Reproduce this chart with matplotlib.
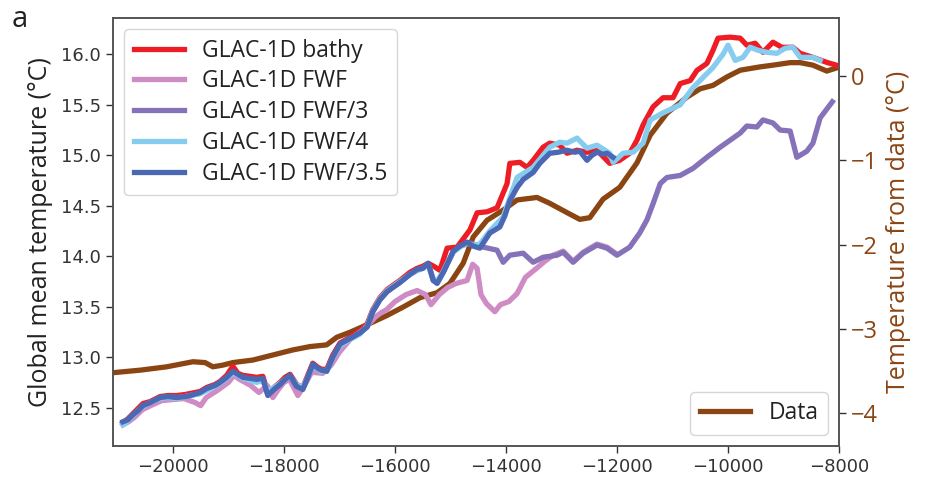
import matplotlib
matplotlib.use('Agg')
import matplotlib.pyplot as plt

# shared early time grid (years) for the GLAC-1D runs
t_early = [-20900, -20810, -20720, -20630, -20540, -20410, -20230, -20090, -19930, -19780,
           -19690, -19510, -19390, -19240, -19150, -19030, -18920, -18830, -18740, -18610,
           -18490, -18380, -18290, -18180, -18070, -17980, -17890, -17770, -17660, -17570,
           -17480, -17390, -17320, -17230, -17120, -16990, -16860, -16760, -16630, -16500,
           -16400, -16270, -16140, -16040, -15910, -15730, -15600, -15500]

red_early = [12.35, 12.39, 12.44, 12.49, 12.54, 12.56, 12.61, 12.62, 12.62, 12.63, 12.64, 12.66,
             12.70, 12.73, 12.76, 12.82, 12.91, 12.84, 12.82, 12.81, 12.80, 12.81, 12.65, 12.70,
             12.75, 12.80, 12.83, 12.73, 12.70, 12.82, 12.94, 12.90, 12.88, 12.88, 13.02, 13.14,
             13.18, 13.22, 13.26, 13.33, 13.47, 13.59, 13.67, 13.71, 13.76, 13.84, 13.88, 13.90]
ltblue_early = [12.33, 12.37, 12.42, 12.47, 12.51, 12.55, 12.59, 12.60, 12.59, 12.61, 12.62, 12.64,
                12.67, 12.71, 12.74, 12.79, 12.84, 12.82, 12.79, 12.77, 12.75, 12.77, 12.66, 12.70,
                12.74, 12.78, 12.81, 12.73, 12.70, 12.80, 12.91, 12.88, 12.86, 12.86, 12.99, 13.11,
                13.16, 13.19, 13.23, 13.31, 13.46, 13.58, 13.66, 13.70, 13.75, 13.82, 13.86, 13.88]
blue_early = [12.36, 12.38, 12.43, 12.47, 12.52, 12.55, 12.60, 12.61, 12.60, 12.61, 12.62, 12.65,
              12.69, 12.72, 12.75, 12.80, 12.86, 12.83, 12.80, 12.79, 12.78, 12.79, 12.62, 12.68,
              12.73, 12.78, 12.82, 12.71, 12.68, 12.80, 12.93, 12.89, 12.87, 12.86, 13.00, 13.13,
              13.17, 13.20, 13.24, 13.30, 13.45, 13.57, 13.65, 13.69, 13.74, 13.82, 13.87, 13.88]
purple_early = [12.35, 12.38, 12.43, 12.47, 12.52, 12.55, 12.60, 12.61, 12.60, 12.61, 12.62, 12.64,
                12.68, 12.72, 12.75, 12.80, 12.85, 12.82, 12.80, 12.78, 12.77, 12.78, 12.63, 12.68,
                12.73, 12.78, 12.81, 12.71, 12.69, 12.80, 12.92, 12.88, 12.87, 12.86, 13.00, 13.12,
                13.17, 13.20, 13.24, 13.30, 13.45, 13.57, 13.65, 13.69, 13.74, 13.82, 13.86, 13.88]

# later parts, where the runs split
t_red = [-15400, -15300, -15190, -15060, -14880, -14650, -14520, -14340, -14160, -13980,
         -13930, -13750, -13620, -13510, -13330, -13210, -13030, -12900, -12720, -12540,
         -12360, -12130, -11950, -11770, -11640, -11530, -11350, -11170, -10990, -10860,
         -10680, -10560, -10380, -10270, -10180, -9960, -9780, -9660, -9510, -9370,
         -9190, -9030, -8830, -8700, -8470, -8220, -8030]
red_late = [13.93, 13.90, 13.86, 14.08, 14.09, 14.26, 14.43, 14.44, 14.48, 14.72,
            14.92, 14.93, 14.88, 14.95, 15.08, 15.12, 15.10, 15.02, 15.05, 15.03,
            15.05, 14.92, 14.95, 15.02, 15.15, 15.30, 15.48, 15.57, 15.57, 15.71,
            15.74, 15.84, 15.91, 16.04, 16.16, 16.17, 16.16, 16.09, 16.11, 16.02,
            16.12, 16.07, 16.07, 16.01, 15.97, 15.92, 15.89]

t_ltblue = [-15400, -15310, -15240, -15130, -15060, -14950, -14830, -14700, -14590, -14470,
            -14290, -14050, -13800, -13510, -13210, -13030, -12900, -12720, -12540, -12360,
            -12130, -12070, -11890, -11710, -11530, -11400, -11170, -10860, -10630, -10450,
            -10270, -10090, -10000, -9870, -9730, -9600, -9460, -9300, -9120, -8970,
            -8830, -8700, -8470, -8340]
ltblue_late = [13.92, 13.78, 13.75, 13.85, 13.93, 14.04, 14.09, 14.13, 14.11, 14.12,
               14.25, 14.39, 14.78, 14.88, 15.08, 15.13, 15.12, 15.17, 15.07, 15.10,
               15.02, 14.93, 15.02, 15.03, 15.12, 15.35, 15.42, 15.50, 15.67, 15.77,
               15.87, 16.00, 16.09, 15.94, 15.97, 16.07, 16.04, 16.02, 16.01, 16.06,
               16.07, 15.97, 15.97, 15.94]

t_blue = [-15400, -15310, -15240, -15130, -15060, -14950, -14830, -14700, -14590, -14470,
          -14290, -14110, -14020, -13930, -13800, -13690, -13510, -13390, -13210, -13060,
          -12900, -12760, -12670, -12540, -12450, -12360, -12250, -12180, -12070]
blue_late = [13.93, 13.76, 13.73, 13.84, 13.92, 14.05, 14.10, 14.14, 14.10, 14.08,
             14.23, 14.29, 14.40, 14.55, 14.68, 14.76, 14.83, 14.92, 15.02, 15.03,
             15.05, 15.03, 15.04, 14.95, 15.00, 15.03, 15.01, 15.02, 14.98]

t_purple = [-15400, -15310, -15240, -15130, -15060, -14950, -14830, -14650, -14410, -14160,
            -14050, -13930, -13690, -13510, -13330, -13080, -12970, -12790, -12610, -12360,
            -12180, -12000, -11770, -11590, -11460, -11350, -11220, -11100, -10860, -10630,
            -10380, -10140, -9960, -9780, -9660, -9480, -9370, -9190, -9060, -8880,
            -8760, -8580, -8470, -8340, -8120]
purple_late = [13.92, 13.76, 13.74, 13.84, 13.92, 14.04, 14.10, 14.13, 14.09, 14.06,
               13.94, 14.01, 14.03, 13.94, 13.99, 14.01, 14.04, 13.94, 14.03, 14.11,
               14.08, 14.01, 14.09, 14.23, 14.36, 14.52, 14.72, 14.78, 14.80, 14.87,
               14.98, 15.08, 15.15, 15.22, 15.29, 15.28, 15.35, 15.32, 15.25, 15.24,
               14.98, 15.04, 15.12, 15.37, 15.53]

t_pink = [-20900, -20800, -20700, -20550, -20400, -20200, -20000, -19800, -19600, -19500,
          -19400, -19200, -19000, -18900, -18800, -18600, -18450, -18300, -18200, -18100,
          -18000, -17900, -17750, -17650, -17500, -17300, -17150, -17000, -16800, -16700,
          -16550, -16450, -16350, -16250, -16150, -16000, -15800, -15600, -15450, -15350,
          -15200, -15050, -14900, -14700, -14600, -14520, -14450, -14350, -14200, -14100,
          -13950, -13800, -13650, -13450, -13300, -13150, -12970, -12790, -12610, -12360,
          -12180, -12000]
pink = [12.33, 12.36, 12.40, 12.48, 12.52, 12.57, 12.58, 12.59, 12.55, 12.52,
        12.60, 12.67, 12.75, 12.82, 12.78, 12.72, 12.65, 12.72, 12.60, 12.68,
        12.75, 12.78, 12.62, 12.70, 12.85, 12.84, 12.92, 13.05, 13.18, 13.22,
        13.28, 13.34, 13.40, 13.44, 13.47, 13.55, 13.62, 13.66, 13.62, 13.52,
        13.62, 13.69, 13.73, 13.76, 13.92, 13.88, 13.62, 13.53, 13.45, 13.52,
        13.55, 13.63, 13.79, 13.88, 13.95, 14.01, 14.05, 13.95, 14.04, 14.12,
        14.09, 14.02]

# reconstruction (right axis, anomaly)
t_data = [-21080, -20590, -20110, -19640, -19420, -19280, -19100, -18920, -18560, -18200,
          -17840, -17530, -17230, -17050, -16810, -16500, -16140, -15850, -15550, -15240,
          -15010, -14770, -14590, -14340, -14050, -13800, -13440, -13210, -12900, -12670,
          -12490, -12250, -11950, -11640, -11400, -11100, -10740, -10500, -10270, -10020,
          -9780, -9420, -9190, -8880, -8700, -8470, -8220, -8030]
data = [-3.52, -3.49, -3.45, -3.39, -3.40, -3.45, -3.43, -3.40, -3.37, -3.31,
        -3.25, -3.21, -3.19, -3.10, -3.04, -2.95, -2.84, -2.74, -2.63, -2.57,
        -2.46, -2.22, -1.91, -1.71, -1.59, -1.47, -1.44, -1.51, -1.62, -1.70,
        -1.68, -1.46, -1.32, -1.03, -0.70, -0.44, -0.25, -0.15, -0.11, -0.01,
        0.07, 0.11, 0.13, 0.16, 0.16, 0.13, 0.06, 0.10]

labels = ['GLAC-1D bathy', 'GLAC-1D FWF', 'GLAC-1D FWF/3', 'GLAC-1D FWF/4', 'GLAC-1D FWF/3.5']
colors = ['#ee1d25', '#cf8bc3', '#8572b9', '#86ccef', '#4a68b3']
brown = '#8b4513'
lab_font = 'Open Sans'
dark = '#333333'

fig = plt.figure(figsize=(9.39, 4.82), dpi=100)
ax = fig.add_axes([0.1203, 0.0747, 0.7732, 0.888])
ax2 = ax.twinx()

lw = 3.8
ax.plot(t_early + t_red, red_early + red_late, color=colors[0], lw=lw, label=labels[0])
ax.plot(t_pink, pink, color=colors[1], lw=lw, label=labels[1])
ax.plot(t_early + t_purple, purple_early + purple_late, color=colors[2], lw=lw, label=labels[2])
ax.plot(t_early + t_ltblue, ltblue_early + ltblue_late, color=colors[3], lw=lw, label=labels[3])
ax.plot(t_early + t_blue, blue_early + blue_late, color=colors[4], lw=lw, label=labels[4])

ax2.plot(t_data, data, color=brown, lw=lw, label='Data')

# model curves drawn above the data curve
ax.set_zorder(ax2.get_zorder() + 1)
ax.patch.set_visible(False)

ax.set_xlim(-21080, -8000)
ax.set_ylim(12.12, 16.36)
ax2.set_ylim(-4.39, 0.69)
ax.set_xticks([-20000, -18000, -16000, -14000, -12000, -10000, -8000])
ax.set_yticks([12.5, 13.0, 13.5, 14.0, 14.5, 15.0, 15.5, 16.0])
ax2.set_yticks([-4, -3, -2, -1, 0])

ax.tick_params(labelsize=13, colors=dark, length=5, width=1)
ax2.tick_params(axis='y', length=5, width=1, color=dark, labelcolor=brown, labelsize=17)
for lab in ax2.get_yticklabels():
    lab.set_fontfamily(lab_font)
for a in (ax, ax2):
    for sp in a.spines.values():
        sp.set_color('#555555')
        sp.set_linewidth(1.2)

ax.set_ylabel('Global mean temperature (°C)', fontsize=18, family=lab_font, color='#222222',
              labelpad=6)
ax2.set_ylabel('Temperature from data (°C)', fontsize=18, family=lab_font, color=brown,
               labelpad=6)

leg = ax.legend(loc='upper left', prop={'family': lab_font, 'size': 16.5}, handlelength=2.2,
                borderaxespad=0.5, labelspacing=0.3)
for t in leg.get_texts():
    t.set_color('#222222')
leg2 = ax2.legend(loc='lower right', prop={'family': lab_font, 'size': 16.5}, handlelength=2.2,
                  borderaxespad=0.5)
for t in leg2.get_texts():
    t.set_color('#222222')

fig.text(0.012, 0.99, 'a', fontsize=21, family=lab_font, va='top', color='#222222')

fig.savefig('out.png', dpi=100)
